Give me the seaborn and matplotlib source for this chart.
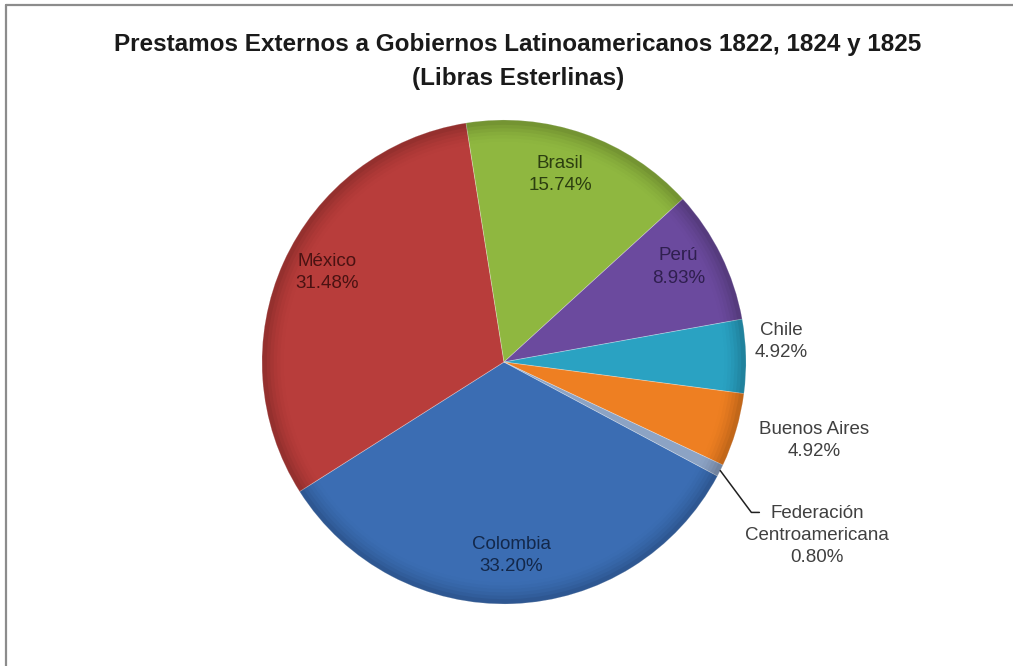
import numpy as np
import matplotlib
matplotlib.use("Agg")
import matplotlib.pyplot as plt
from matplotlib.lines import Line2D
import seaborn as sns

# Loan shares by borrowing government (percent of total, pounds sterling)
paises = ["Colombia", "México", "Brasil", "Perú", "Chile", "Buenos Aires",
          "Federación\nCentroamericana"]
porcentajes = [33.20, 31.48, 15.74, 8.93, 4.92, 4.92, 0.80]
colores = ["#3B6DB3", "#B83D3B", "#8FB740", "#6B4A9E", "#2AA2C2", "#EE7F22", "#8CA3C4"]
colores_texto = ["#13284a", "#4a1212", "#2c3e10", "#2f1f4f", "#404040", "#404040", "#404040"]

titulo = "Prestamos Externos a Gobiernos Latinoamericanos 1822, 1824 y 1825"
subtitulo = "(Libras Esterlinas)"

# label placement: radial distance (fraction of radius) and angular nudge in degrees
dist_etiqueta = [0.80, 0.82, 0.81, 0.82, 1.15, 1.32, 1.48]
giro_etiqueta = [0.0, -2.4, 2.6, 2.3, 2.8, 2.2, -2.3]

W, H = 1013, 666
sns.set_theme(style="white")
plt.rcParams["font.family"] = ["Liberation Sans", "DejaVu Sans"]

fig = plt.figure(figsize=(W / 100, H / 100), dpi=100)
fig.patch.set_facecolor("white")
ax = fig.add_axes([0, 0, 1, 1])

centro = (504, H - 362)
radio = 242
inicio = -28.1

paleta = sns.color_palette(colores)
wedges, _ = ax.pie(porcentajes, colors=paleta, startangle=inicio, counterclock=False,
                   center=centro, radius=radio, frame=True,
                   wedgeprops=dict(linewidth=0.6, edgecolor=(1, 1, 1, 0.3)))
ax.set_xlim(0, W)
ax.set_ylim(0, H)
ax.set_aspect("auto")
ax.axis("off")

# darkened rim for a soft bevel look
for w in wedges:
    for k, a in enumerate(np.linspace(0.02, 0.12, 6)):
        ring = matplotlib.patches.Wedge(centro, radio, w.theta1, w.theta2,
                                        width=radio * (0.09 - k * 0.014),
                                        facecolor="black", alpha=a * 0.45,
                                        edgecolor="none")
        ax.add_patch(ring)

for w, nombre, pct, d, g, ct in zip(wedges, paises, porcentajes, dist_etiqueta,
                                    giro_etiqueta, colores_texto):
    ang = np.deg2rad((w.theta1 + w.theta2) / 2 + g)
    x = centro[0] + d * radio * np.cos(ang)
    y = centro[1] + d * radio * np.sin(ang)
    ax.text(x, y, f"{nombre}\n{pct:.2f}%", ha="center", va="center",
            fontsize=13.5, color=ct, linespacing=1.4)
    if pct < 1:
        mid = np.deg2rad((w.theta1 + w.theta2) / 2)
        x0 = centro[0] + radio * np.cos(mid)
        y0 = centro[1] + radio * np.sin(mid)
        xe, ye = x - 66, y + 23
        ax.plot([x0, xe, xe + 8], [y0, ye, ye], color="#202020", lw=1.1)

fig.text(518 / W, 1 - 45 / H, titulo, ha="center", va="center",
         fontsize=17.5, fontweight="bold", color="#1a1a1a")
fig.text(518 / W, 1 - 79 / H, subtitulo, ha="center", va="center",
         fontsize=17.5, fontweight="bold", color="#1a1a1a")

# chart-area frame on the left and top
fig.add_artist(Line2D([6 / W, 6 / W], [0, 1 - 5 / H], transform=fig.transFigure,
                      color="#8c8c8c", lw=1.6))
fig.add_artist(Line2D([6 / W, 1], [1 - 5 / H, 1 - 5 / H], transform=fig.transFigure,
                      color="#8c8c8c", lw=1.6))

fig.savefig("out.png", dpi=100, facecolor="white")
